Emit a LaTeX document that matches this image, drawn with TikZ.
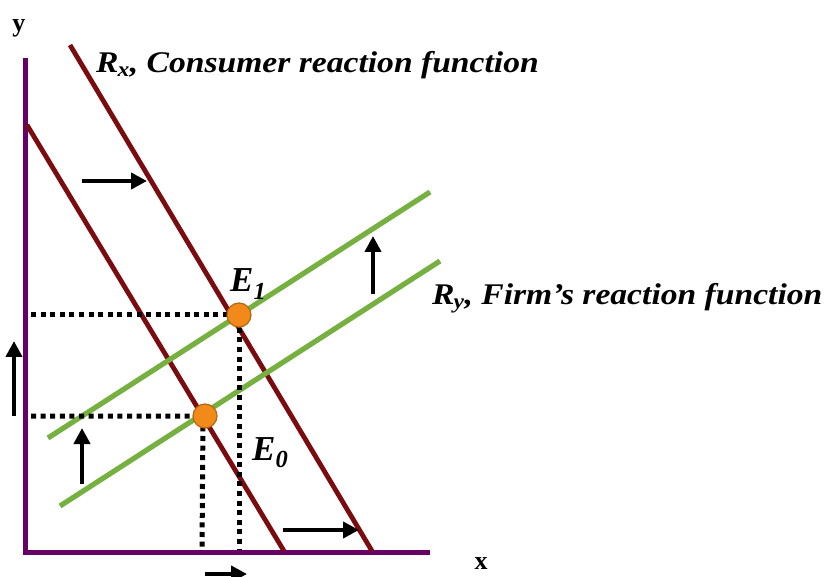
\documentclass[tikz,border=0pt]{standalone}
\usepackage{fontspec}
\setmainfont{Liberation Serif}
\newfontfamily\lbfont[FakeStretch=1.12]{Liberation Serif}
\usetikzlibrary{arrows.meta}
\definecolor{pmaroon}{HTML}{7A0C10}
\definecolor{pgreen}{HTML}{76B041}
\definecolor{ppurple}{HTML}{660066}
\definecolor{porange}{HTML}{F28A1A}

\begin{document}
\begin{tikzpicture}[x=1pt,y=-1pt,
  ax/.style={draw=ppurple,line width=5pt,line join=miter},
  rx/.style={draw=pmaroon,line width=4.8pt},
  ry/.style={draw=pgreen,line width=5.2pt},
  dt/.style={draw=black,line width=5pt,dash pattern=on 5pt off 4.6pt},
  eq/.style={circle,fill=porange,draw=porange!75!black,line width=1.2pt,
             minimum size=24pt,inner sep=0pt},
  sh/.style={-{Triangle[length=16pt,width=16pt]},line width=4.6pt},
  lb/.style={font=\lbfont\fontsize{30}{33}\selectfont\bfseries\itshape,inner sep=0pt},
  el/.style={font=\fontsize{35}{38}\selectfont\bfseries\itshape,inner sep=0pt},
  al/.style={font=\fontsize{26}{28}\selectfont\bfseries,inner sep=0pt}]
\useasboundingbox (0,0) rectangle (825,577);

% axes
\coordinate (ytop) at (25,58);
\coordinate (o)    at (25,552);
\coordinate (xend) at (430,552);
\draw[ax] (ytop) -- (o) -- (xend);
\node[al,anchor=base] (ylab) at (19,32) {y};
\node[al,anchor=base] (xlab) at (481,569) {x};

% consumer reaction functions, before and after the shift
\coordinate (r0a) at (27,125);
\coordinate (r0b) at (284,551);
\coordinate (r1a) at (70,45);
\coordinate (r1b) at (372,551);
\draw[rx] (r0a) -- (r0b);
\draw[rx] (r1a) -- (r1b);

% firm reaction functions
\coordinate (g0a) at (60,506);
\coordinate (g0b) at (440,261);
\coordinate (g1a) at (48,438);
\coordinate (g1b) at (430,192);
\draw[ry] (g0a) -- (g0b);
\draw[ry] (g1a) -- (g1b);

% equilibria and their projections
\coordinate (y1) at (31,315);
\coordinate (y0) at (31,416);
\coordinate (x1) at (239,550);
\coordinate (x0) at (202,550);
\draw[dt] (y1) -- (239,315) -- (x1);
\draw[dt] (y0) -- (203,416) -- (x0);
\node[eq] (e1) at (239,315) {};
\node[eq] (e0) at (205,416) {};
\node[el,anchor=base west] (e1lab) at (230,292) {E\textsubscript{1}};
\node[el,anchor=base west] (e0lab) at (252,460) {E\textsubscript{0}};

% labels of the curves
\node[lb,anchor=base west] (rxlab) at (96,73)
  {R\textsubscript{\kern-1pt x}, Consumer reaction function};
\node[lb,anchor=base west] (rylab) at (432,305)
  {R\textsubscript{\kern-1pt y}, Firm’s reaction function};

% shift arrows
\coordinate (a1s) at (82,181);   \coordinate (a1e) at (147,181);
\coordinate (a2s) at (283,530);  \coordinate (a2e) at (359,530);
\coordinate (a3s) at (205,574);  \coordinate (a3e) at (247,574);
\coordinate (a4s) at (14,416);   \coordinate (a4e) at (14,341);
\coordinate (a5s) at (82,484);   \coordinate (a5e) at (82,428);
\coordinate (a6s) at (373,294);  \coordinate (a6e) at (373,236);
\draw[sh] (a1s) -- (a1e);
\draw[sh] (a2s) -- (a2e);
\draw[sh] (a3s) -- (a3e);
\draw[sh] (a4s) -- (a4e);
\draw[sh] (a5s) -- (a5e);
\draw[sh] (a6s) -- (a6e);
\end{tikzpicture}
\end{document}
